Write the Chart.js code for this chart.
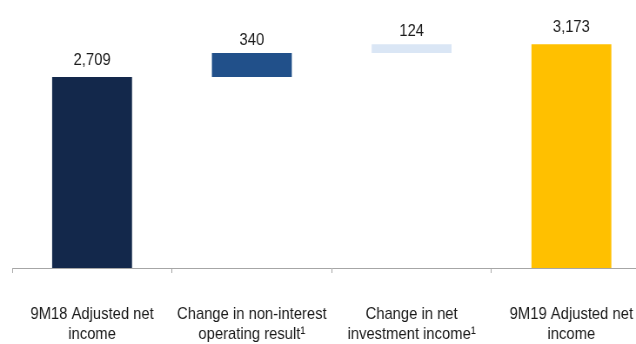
<!DOCTYPE html>
<html>
<head>
<meta charset="utf-8">
<script src="https://cdn.jsdelivr.net/npm/chart.js@4"></script>
<style>
  html, body { margin: 0; padding: 0; background: #fff; overflow: hidden; }
  /* narrow lettering: squeeze the whole canvas horizontally */
  #bridgeChart { transform: scaleX(0.87); transform-origin: 0 0; display: block; }
</style>
</head>
<body>
<canvas id="bridgeChart" width="760" height="344"></canvas>
<script>
// net income bridge, 9M18 -> 9M19
const categories = [
  ["9M18 Adjusted net", "income"],
  ["Change in non-interest", "operating result\u00B9"],
  ["Change in net", "investment income\u00B9"],
  ["9M19 Adjusted net", "income"]
];
const values = [2709, 340, 124, 3173];
const isTotal = [true, false, false, true];
const barColors = ["#13284B", "#21508A", "#DAE6F5", "#FFC000"];

const FONT = "'Liberation Sans', Arial, sans-serif";

// totals start at zero, changes float on the running total
let running = 0;
const ranges = values.map((v, i) => {
  if (isTotal[i]) { running = v; return [0, v]; }
  const r = [running, running + v];
  running += v;
  return r;
});

const valueLabels = {
  id: "valueLabels",
  afterDatasetsDraw(chart) {
    const ctx = chart.ctx;
    const meta = chart.getDatasetMeta(0);
    ctx.save();
    ctx.font = "17px " + FONT;
    ctx.fillStyle = "#1a1a1a";
    ctx.textAlign = "center";
    ctx.textBaseline = "alphabetic";
    meta.data.forEach((bar, i) => {
      const top = Math.min(bar.y, bar.base);
      ctx.fillText(values[i].toLocaleString("en-US"), bar.x, top - (isTotal[i] ? 12 : 8));
    });
    ctx.restore();
  }
};

const ctx = document.getElementById("bridgeChart").getContext("2d");
new Chart(ctx, {
  type: "bar",
  data: {
    labels: categories,
    datasets: [{
      data: ranges,
      backgroundColor: barColors,
      borderWidth: 0,
      barPercentage: 0.5,
      categoryPercentage: 1
    }]
  },
  options: {
    responsive: false,
    animation: false,
    layout: { padding: { left: 14, right: 11, top: 0, bottom: 0 } },
    plugins: { legend: { display: false }, tooltip: { enabled: false } },
    scales: {
      x: {
        grid: { drawOnChartArea: false, drawTicks: true, tickLength: 5, offset: true, color: "#A6A6A6" },
        border: { color: "#A6A6A6", width: 1 },
        ticks: {
          color: "#1a1a1a",
          font: { family: FONT, size: 17, lineHeight: 1.2 },
          padding: 31,
          maxRotation: 0,
          autoSkip: false
        },
        afterFit(scale) { scale.height = 76; }
      },
      y: {
        display: false,
        min: 0,
        max: 3800
      }
    }
  },
  plugins: [valueLabels]
});
</script>
</body>
</html>
